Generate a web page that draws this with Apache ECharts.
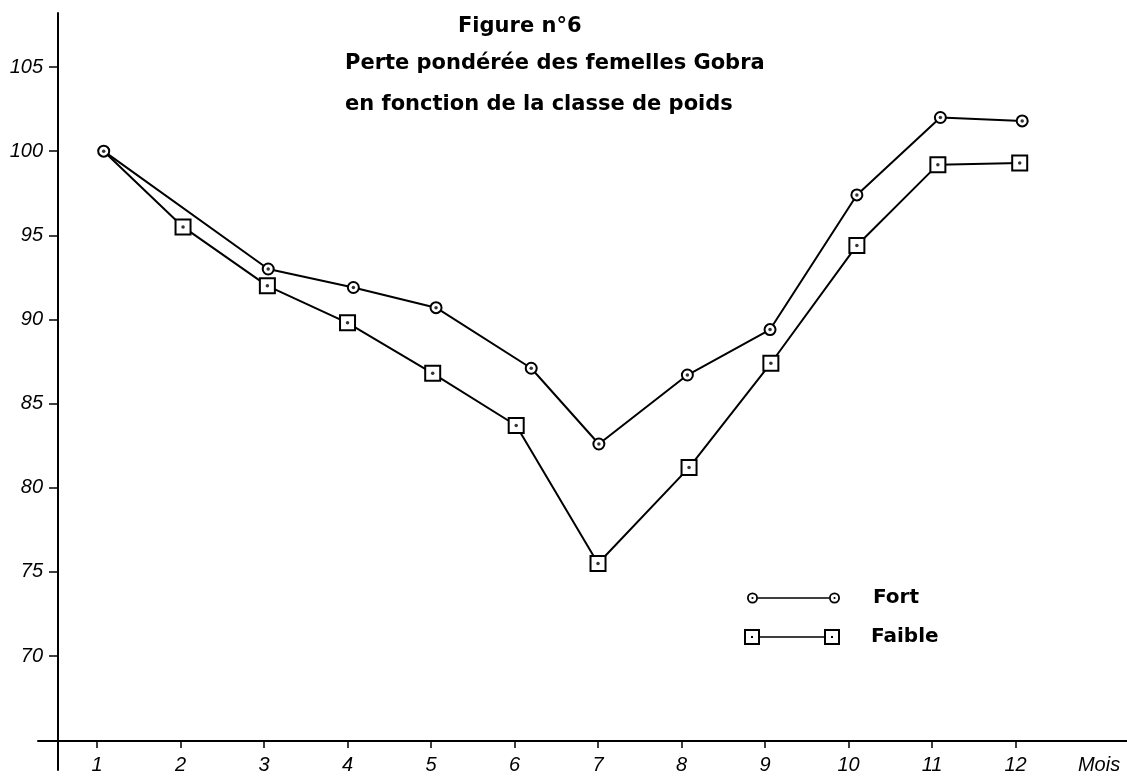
<!DOCTYPE html>
<html>
<head>
<meta charset="utf-8">
<title>Figure n°6</title>
<script src="https://cdn.jsdelivr.net/npm/echarts@6/dist/echarts.min.js"></script>
<style>
  html, body { margin: 0; padding: 0; background: #fff; }
  #chart { width: 1127px; height: 780px; }
</style>
</head>
<body>
<div id="chart"></div>
<script>
// values (month position as drawn, weighted loss)
const fortMonth = [1.08, 3.05, 4.07, 5.06, 6.2, 7.01, 8.07, 9.06, 10.1, 11.1, 12.08]
const fortValue = [100, 93.0, 91.9, 90.7, 87.1, 82.6, 86.7, 89.4, 97.4, 102.0, 101.8]
const faibleMonth = [1.08, 2.03, 3.04, 4.0, 5.02, 6.02, 7.0, 8.09, 9.07, 10.1, 11.07, 12.05]
const faibleValue = [100, 95.5, 92.0, 89.8, 86.8, 83.7, 75.5, 81.2, 87.4, 94.4, 99.2, 99.3]

const monthTicks = [1, 2, 3, 4, 5, 6, 7, 8, 9, 10, 11, 12]
const valueTicks = [70, 75, 80, 85, 90, 95, 100, 105]
const unitPos = 13 // where "Mois" sits on the month axis

const titleLines = ['Figure n°6', 'Perte pondérée des femelles Gobra', 'en fonction de la classe de poids']

// legend icons: marker - line - marker
const fortIcon = 'path://M0,5.5A5.5,5.5 0 1,1 11,5.5A5.5,5.5 0 1,1 0,5.5Z M1.8,5.5A3.7,3.7 0 1,0 9.2,5.5A3.7,3.7 0 1,0 1.8,5.5Z M4.4,5.5A1.1,1.1 0 1,1 6.6,5.5A1.1,1.1 0 1,1 4.4,5.5Z M11,4.7H82V6.3H11Z M82,5.5A5.5,5.5 0 1,1 93,5.5A5.5,5.5 0 1,1 82,5.5Z M83.8,5.5A3.7,3.7 0 1,0 91.2,5.5A3.7,3.7 0 1,0 83.8,5.5Z M86.4,5.5A1.1,1.1 0 1,1 88.6,5.5A1.1,1.1 0 1,1 86.4,5.5Z'
const faibleIcon = 'path://M0,0H16V16H0Z M2,2V14H14V2Z M7,7H9V9H7Z M16,7.2H80V8.8H16Z M80,0H96V16H80Z M82,2V14H94V2Z M87,7H89V9H87Z'

const zip = (xs, ys) => xs.map((x, i) => [x, ys[i]])

const faibleData = zip(faibleMonth, faibleValue).map((p, i) =>
  i === 0 ? { value: p, symbol: 'none' } : { value: p })

const titleFont = { fontFamily: 'DejaVu Sans', fontWeight: 'bold', fontSize: 21, color: '#000' }
const axisFont = { fontFamily: 'Liberation Sans', fontStyle: 'italic', fontSize: 20, color: '#000' }

const chart = echarts.init(document.getElementById('chart'))
chart.setOption({
  animation: false,
  backgroundColor: '#fff',
  title: [
    { text: titleLines[0], left: 458, top: 16, padding: 0, textStyle: titleFont },
    { text: titleLines[1], left: 345, top: 53, padding: 0, textStyle: titleFont },
    { text: titleLines[2], left: 345, top: 94, padding: 0, textStyle: titleFont }
  ],
  legend: [
    {
      data: [{ name: 'Fort', icon: fortIcon }],
      left: 747, top: 588, padding: 0,
      itemWidth: 93, itemHeight: 11,
      itemStyle: { color: '#000', borderWidth: 0 },
      textStyle: { fontFamily: 'DejaVu Sans', fontWeight: 'bold', fontSize: 20, color: '#000', padding: [0, 0, 0, 28] }
    },
    {
      data: [{ name: 'Faible', icon: faibleIcon }],
      left: 744, top: 627, padding: 0,
      itemWidth: 96, itemHeight: 16,
      itemStyle: { color: '#000', borderWidth: 0 },
      textStyle: { fontFamily: 'DejaVu Sans', fontWeight: 'bold', fontSize: 20, color: '#000', padding: [0, 0, 0, 26] }
    }
  ],
  grid: { left: 38, right: 0, top: 13, bottom: 10, outerBoundsMode: 'none' },
  xAxis: {
    type: 'value',
    min: 0.293,
    max: 13.335,
    offset: -29,
    axisLine: { onZero: false, lineStyle: { color: '#000', width: 2 } },
    axisTick: { customValues: monthTicks, length: 7, lineStyle: { color: '#000', width: 1.5 } },
    axisLabel: {
      customValues: monthTicks.concat([unitPos]),
      margin: 14,
      formatter: v => (v === unitPos ? 'Mois' : String(v)),
      ...axisFont
    },
    splitLine: { show: false }
  },
  yAxis: {
    type: 'value',
    min: 63.23,
    max: 108.21,
    offset: -20,
    axisLine: { show: true, onZero: false, lineStyle: { color: '#000', width: 2 } },
    axisTick: { show: true, customValues: valueTicks, length: 9, lineStyle: { color: '#000', width: 1.5 } },
    axisLabel: { customValues: valueTicks, margin: 15, ...axisFont },
    splitLine: { show: false }
  },
  series: [
    {
      name: 'Fort',
      type: 'line',
      data: zip(fortMonth, fortValue),
      symbol: 'circle',
      symbolSize: 11,
      lineStyle: { color: '#000', width: 2 },
      itemStyle: { color: '#fff', borderColor: '#000', borderWidth: 2 }
    },
    {
      name: 'Faible',
      type: 'line',
      data: faibleData,
      symbol: 'rect',
      symbolSize: 15,
      lineStyle: { color: '#000', width: 2 },
      itemStyle: { color: '#fff', borderColor: '#000', borderWidth: 2 }
    },
    // centre dots of the markers
    {
      name: 'fortDot',
      type: 'scatter',
      data: zip(fortMonth, fortValue),
      symbolSize: 3.5,
      itemStyle: { color: '#000' },
      z: 5,
      silent: true
    },
    {
      name: 'faibleDot',
      type: 'scatter',
      data: zip(faibleMonth, faibleValue).slice(1),
      symbolSize: 3.5,
      itemStyle: { color: '#000' },
      z: 5,
      silent: true
    }
  ]
})
</script>
</body>
</html>
